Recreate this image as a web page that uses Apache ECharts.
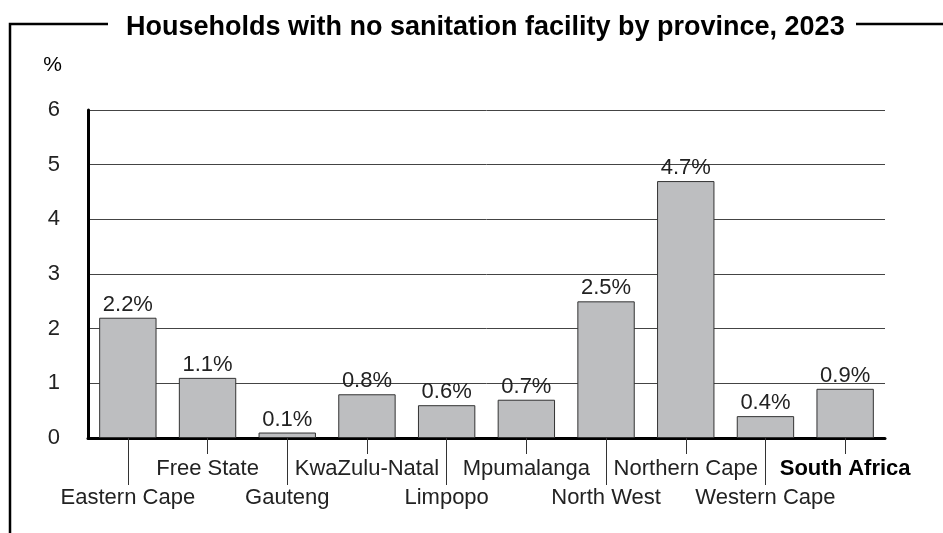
<!DOCTYPE html>
<html>
<head>
<meta charset="utf-8">
<script src="https://cdn.jsdelivr.net/npm/echarts@6/dist/echarts.min.js"></script>
<style>
  html, body { margin: 0; padding: 0; background: #fff; }
  #chart { width: 943px; height: 533px; }
</style>
</head>
<body>
<div id="chart"></div>
<script>
// data
const provinces = ['Eastern Cape', 'Free State', 'Gauteng', 'KwaZulu-Natal', 'Limpopo',
  'Mpumalanga', 'North West', 'Northern Cape', 'Western Cape', 'South Africa'];
const noSanitation = [2.2, 1.1, 0.1, 0.8, 0.6, 0.7, 2.5, 4.7, 0.4, 0.9];
const yTicks = [0, 1, 2, 3, 4, 5, 6];

const font = '"Liberation Sans", Arial, sans-serif';
const txt = '#222';

const chart = echarts.init(document.getElementById('chart'));

// labels alternate between two rows; even index -> lower row with long tick
const isLower = i => i % 2 === 0;
const isUpper = i => i % 2 === 1;
const fmtName = v => v === 'South Africa' ? '{b|' + v + '}' : '{n|' + v + '}';
const rich = {
  n: { fontFamily: font, fontSize: 22, color: txt },
  b: { fontFamily: font, fontSize: 22, color: '#000', fontWeight: 'bold' }
};

chart.setOption({
  animation: false,
  title: {
    text: 'Households with no sanitation facility by province, 2023',
    left: 121,
    top: 9,
    textStyle: { fontFamily: font, fontSize: 27, fontWeight: 'bold', color: '#000' }
  },
  grid: { left: 88, right: 58, top: 110, bottom: 95 },
  xAxis: [
    {
      type: 'category',
      data: provinces,
      position: 'bottom',
      axisLine: { show: true, lineStyle: { color: '#000', width: 3 } },
      axisTick: {
        show: true, alignWithLabel: true, length: 47,
        interval: (i) => isLower(i),
        lineStyle: { color: '#333', width: 1 }
      },
      axisLabel: {
        interval: (i) => isLower(i),
        margin: 49,
        formatter: fmtName,
        rich: rich
      }
    },
    {
      type: 'category',
      data: provinces,
      position: 'bottom',
      axisLine: { show: false },
      axisTick: {
        show: true, alignWithLabel: true, length: 16,
        interval: (i) => isUpper(i),
        lineStyle: { color: '#333', width: 1 }
      },
      axisLabel: {
        interval: (i) => isUpper(i),
        margin: 20,
        formatter: fmtName,
        rich: rich
      }
    }
  ],
  yAxis: {
    type: 'value',
    min: yTicks[0],
    max: yTicks[yTicks.length - 1],
    interval: 1,
    name: '%',
    nameLocation: 'end',
    nameGap: 34,
    nameTextStyle: { fontFamily: font, fontSize: 21, color: '#000', align: 'right', padding: [0, 26, 0, 0] },
    axisLine: { show: true, lineStyle: { color: '#000', width: 3 } },
    axisTick: { show: false },
    axisLabel: { fontFamily: font, fontSize: 22, color: txt, margin: 28 },
    splitLine: { show: true, lineStyle: { color: '#444', width: 1 } }
  },
  series: [{
    type: 'bar',
    data: noSanitation,
    xAxisIndex: 0,
    barCategoryGap: '28%',
    itemStyle: { color: '#bdbec0', borderColor: '#333', borderWidth: 1 },
    label: {
      show: true,
      position: 'top',
      distance: 2,
      formatter: p => p.value + '%',
      fontFamily: font,
      fontSize: 22,
      color: txt
    }
  }],
  graphic: [
    {
      type: 'polyline',
      shape: { points: [[108, 24], [10, 24], [10, 533]] },
      style: { stroke: '#000', lineWidth: 2.5, fill: null }
    },
    {
      type: 'line',
      shape: { x1: 856, y1: 24, x2: 943, y2: 24 },
      style: { stroke: '#000', lineWidth: 2.5 }
    }
  ]
});
</script>
</body>
</html>
